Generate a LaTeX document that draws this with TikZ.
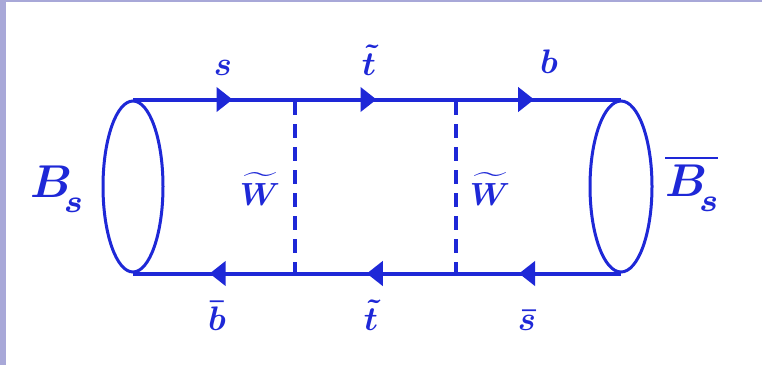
\documentclass[tikz,border=0pt]{standalone}
\usepackage{amsmath,bm,graphicx}
\usetikzlibrary{arrows.meta,decorations.markings,shapes.geometric}
\definecolor{fblue}{RGB}{30,40,215}
\definecolor{frame}{RGB}{168,168,216}
\newcommand{\bigtxt}[2]{\scalebox{#1}{#2}}
\newcommand{\Bsym}{\boldsymbol{B}\kern-1.8pt\raisebox{-3.4pt}{$\scriptstyle\boldsymbol{s}$}}
\tikzset{
  quark/.style={line width=4pt, fblue},
  arr/.style={postaction={decorate, decoration={markings, mark=at position #1 with {\arrow{Triangle[length=16pt,width=24pt]}}}}},
  meson/.style={ellipse, draw=fblue, line width=3pt, inner sep=0pt, minimum width=#1, minimum height=171pt},
  prop/.style={line width=3.5pt, fblue, dash pattern=on 14pt off 9pt},
  lab/.style={text=fblue, inner sep=0pt, anchor=base},
  blab/.style={text=fblue, inner sep=0pt, anchor=base west}
}
\begin{document}
\begin{tikzpicture}[x=1pt,y=-1pt]
\useasboundingbox (0,0) rectangle (762,365);
\fill[white] (0,0) rectangle (762,365);
\fill[frame] (0,0) rectangle (6,365);
\fill[frame] (0,0) rectangle (762,2);
\node[meson=60pt] (L) at (133,186.5) {};
\node[meson=62pt] (R) at (621,186.5) {};
\coordinate (v1t) at (295,101);
\coordinate (v2t) at (456,101);
\coordinate (v1b) at (295,272);
\coordinate (v2b) at (456,272);
\draw[quark, arr=0.204, arr=0.499, arr=0.822] (L.north) -- (R.north);
\draw[quark, arr=0.209, arr=0.521, arr=0.843] (R.south) -- (L.south);
\draw[prop] (v1t) -- (v1b);
\draw[prop] (v2t) -- (v2b);
\node[lab] (ls) at (223,75) {\bigtxt{3.4}{$\boldsymbol{s}$}};
\node[lab] (lt) at (369,75) {\bigtxt{3.4}{$\boldsymbol{\tilde{t}}$}};
\node[lab] (lb) at (549,73) {\bigtxt{3.4}{$\boldsymbol{b}$}};
\node[lab] (lbb) at (217,330) {\bigtxt{3.4}{$\boldsymbol{\bar{b}}$}};
\node[lab] (ltb) at (371,330) {\bigtxt{3.4}{$\boldsymbol{\tilde{t}}$}};
\node[lab] (lsb) at (527,330) {\bigtxt{3.4}{$\boldsymbol{\bar{s}}$}};
\node[lab] (w1) at (260,205) {\bigtxt{3.2}{$\boldsymbol{\widetilde{W}}$}};
\node[lab] (w2) at (490,205) {\bigtxt{3.2}{$\boldsymbol{\widetilde{W}}$}};
\node[blab] (bs) at (30,197) {\bigtxt{4.6}{$\Bsym$}};
\node[blab] (bsb) at (665,196) {\bigtxt{4.6}{$\overline{\Bsym}$}};
\end{tikzpicture}
\end{document}
